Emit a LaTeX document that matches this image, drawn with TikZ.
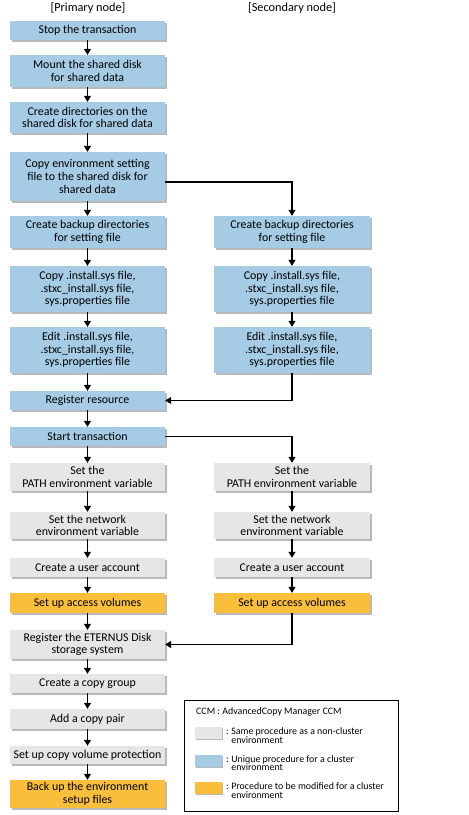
\documentclass[tikz,border=0pt]{standalone}
\usepackage{fontspec}
\setmainfont{Carlito}
\usetikzlibrary{arrows.meta,shadows}
\definecolor{cblue}{RGB}{165,203,229}
\definecolor{cgray}{RGB}{230,230,230}
\definecolor{corange}{RGB}{249,191,59}
\definecolor{cshadow}{RGB}{185,185,185}
\begin{document}
\begin{tikzpicture}[x=1pt,y=-1pt,
  box/.style={draw=none, inner sep=0pt, align=center, font=\fontsize{11.9}{12.7}\selectfont,
    drop shadow={shadow xshift=1.6pt, shadow yshift=-1.6pt, fill=cshadow, opacity=1}},
  lbox/.style={box, minimum width=155pt},
  rbox/.style={box, minimum width=156pt},
  bluebox/.style={fill=cblue},
  graybox/.style={fill=cgray},
  orangebox/.style={fill=corange},
  arr/.style={line width=1.1pt, -{Triangle[length=6pt,width=7pt]}},
  hdr/.style={font=\fontsize{12.3}{13}\selectfont},
  legtext/.style={font=\fontsize{9.9}{8.8}\selectfont, align=left, anchor=north west, inner sep=0pt},
  swatch/.style={draw=none, minimum width=27pt, minimum height=12pt, inner sep=0pt,
    drop shadow={shadow xshift=1.4pt, shadow yshift=-1.4pt, fill=cshadow, opacity=1}}
]
\useasboundingbox (0,0) rectangle (469,815);

\node[hdr] (h1) at (88,8) {[Primary node]};
\node[hdr] (h2) at (292,8) {[Secondary node]};

% left column
\node[lbox,bluebox,minimum height=19pt] (s1) at (87.5,30.5) {Stop the transaction};
\node[lbox,bluebox,minimum height=32pt] (s2) at (87.5,71) {Mount the shared disk\\for shared data};
\node[lbox,bluebox,minimum height=31pt] (s3) at (87.5,117.5) {Create directories on the\\shared disk for shared data};
\node[lbox,bluebox,minimum height=49pt] (s4) at (87.5,176.5) {Copy environment setting\\file to the shared disk for\\shared data};
\node[lbox,bluebox,minimum height=32pt] (s5) at (87.5,232) {Create backup directories\\for setting file};
\node[lbox,bluebox,minimum height=46pt] (s6) at (87.5,289) {Copy .install.sys file,\\.stxc\_install.sys file,\\sys.properties file};
\node[lbox,bluebox,minimum height=46pt] (s7) at (87.5,350) {Edit .install.sys file,\\.stxc\_install.sys file,\\sys.properties file};
\node[lbox,bluebox,minimum height=19pt] (s8) at (87.5,400.5) {Register resource};
\node[lbox,bluebox,minimum height=19pt] (s9) at (87.5,436.5) {Start transaction};
\node[lbox,graybox,minimum height=28pt] (s10) at (87.5,477) {Set the\\PATH environment variable};
\node[lbox,graybox,minimum height=27pt] (s11) at (87.5,525.5) {Set the network\\environment variable};
\node[lbox,graybox,minimum height=19pt] (s12) at (87.5,567.5) {Create a user account};
\node[lbox,orangebox,minimum height=20pt] (s13) at (87.5,603) {Set up access volumes};
\node[lbox,graybox,minimum height=29pt] (s14) at (87.5,644.5) {Register the ETERNUS Disk\\storage system};
\node[lbox,graybox,minimum height=19pt] (s15) at (87.5,683.5) {Create a copy group};
\node[lbox,graybox,minimum height=20pt] (s16) at (87.5,719) {Add a copy pair};
\node[lbox,graybox,minimum height=18pt] (s17) at (87.5,755) {Set up copy volume protection};
\node[lbox,orangebox,minimum height=28pt] (s18) at (87.5,794) {Back up the environment\\setup files};

% right column
\node[rbox,bluebox,minimum height=32pt] (r5) at (292,232) {Create backup directories\\for setting file};
\node[rbox,bluebox,minimum height=46pt] (r6) at (292,289) {Copy .install.sys file,\\.stxc\_install.sys file,\\sys.properties file};
\node[rbox,bluebox,minimum height=46pt] (r7) at (292,350) {Edit .install.sys file,\\.stxc\_install.sys file,\\sys.properties file};
\node[rbox,graybox,minimum height=28pt] (r10) at (292,477) {Set the\\PATH environment variable};
\node[rbox,graybox,minimum height=27pt] (r11) at (292,525.5) {Set the network\\environment variable};
\node[rbox,graybox,minimum height=19pt] (r12) at (292,567.5) {Create a user account};
\node[rbox,orangebox,minimum height=20pt] (r13) at (292,603) {Set up access volumes};

% left arrows
\foreach \a/\b in {s1/s2,s2/s3,s3/s4,s4/s5,s5/s6,s6/s7,s7/s8,s8/s9,s9/s10,s10/s11,s11/s12,s12/s13,s13/s14,s14/s15,s15/s16,s16/s17,s17/s18}
  \draw[arr] (\a) -- (\b);
% right arrows
\foreach \a/\b in {r5/r6,r6/r7,r10/r11,r11/r12,r12/r13}
  \draw[arr] (\a) -- (\b);
% cross connectors
\draw[arr] ([yshift=-5.5pt]s4.east) -| (r5.north);
\draw[arr] (r7.south) |- (s8.east);
\draw[arr] (s9.east) -| (r10.north);
\draw[arr] (r13.south) |- (s14.east);

% legend
\draw[line width=0.8pt] (184,700) rectangle (398,811);
\node[legtext] (lt0) at (196,707.5) {CCM : AdvancedCopy Manager CCM};
\node[swatch,fill=cgray] (l1) at (208.5,733) {};
\node[swatch,fill=cblue] (l2) at (208.5,760.5) {};
\node[swatch,fill=corange] (l3) at (208.5,788) {};
\node[legtext] (lt1) at (226,727.5) {:\hspace{0.25em}Same procedure as a non-cluster\\\phantom{:\hspace{0.25em}}environment};
\node[legtext] (lt2) at (226,755) {:\hspace{0.25em}Unique procedure for a cluster\\\phantom{:\hspace{0.25em}}environment};
\node[legtext] (lt3) at (226,782.5) {:\hspace{0.25em}Procedure to be modified for a cluster\\\phantom{:\hspace{0.25em}}environment};
\end{tikzpicture}
\end{document}
